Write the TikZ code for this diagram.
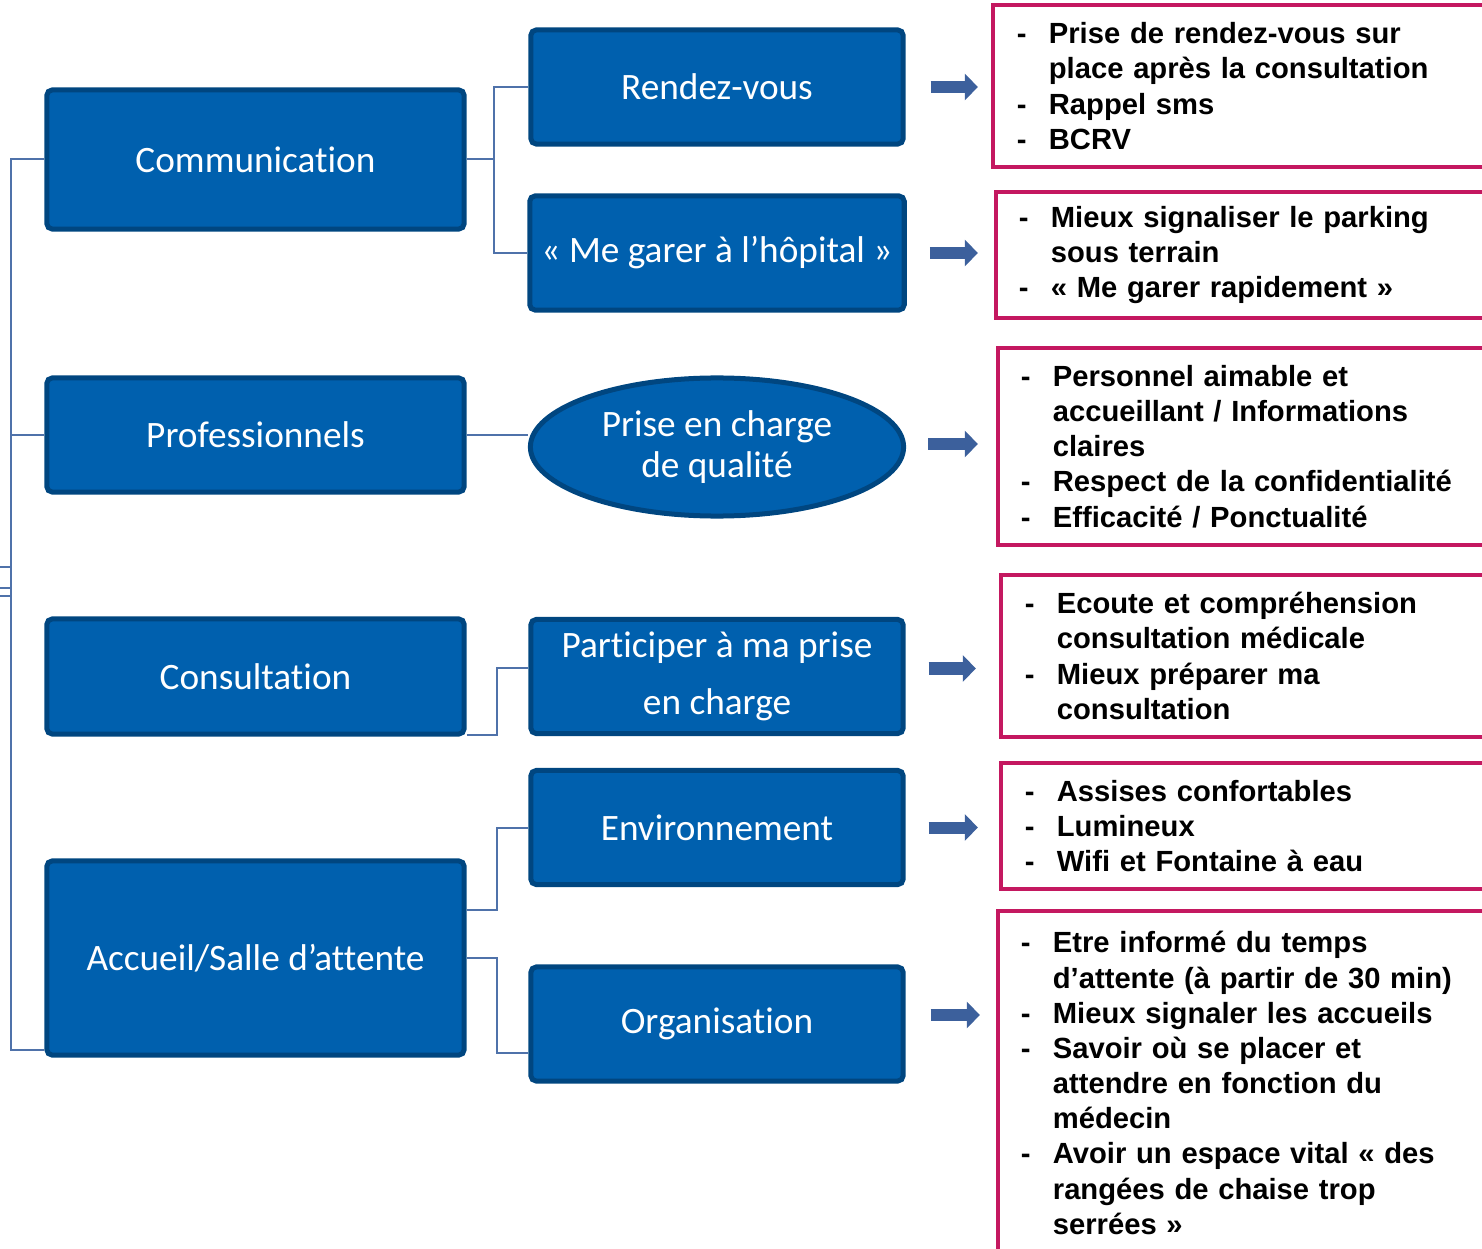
\documentclass[tikz,border=0pt]{standalone}
\usepackage{fontspec}
\setmainfont{Liberation Sans}
\newfontfamily\boxfont{Carlito}[Ligatures=NoCommon, RawFeature=-liga]
\usetikzlibrary{arrows.meta, calc, shapes.geometric}
\definecolor{themeblue}{RGB}{0,96,174}
\definecolor{themeedge}{RGB}{0,70,128}
\definecolor{linkblue}{RGB}{79,114,170}
\definecolor{notemagenta}{RGB}{196,24,96}
\definecolor{arrowblue}{RGB}{60,96,156}
\newcommand{\dashitem}{\makebox[3.2mm][l]{-}}
\newcommand{\contitem}{\hspace*{3.2mm}}
\tikzset{
  theme/.style={
    rectangle, rounded corners=1.5pt, minimum width=4.17cm,
    draw=themeedge, fill=themeblue, line width=0.5mm, align=center,
    font=\boxfont\fontsize{10.6}{12}\selectfont, text=white
  },
  subtheme/.style={theme, minimum width=3.72cm, minimum height=1.14cm},
  subellipse/.style={
    ellipse, minimum width=3.73cm, minimum height=1.38cm, inner sep=0pt,
    draw=themeedge, fill=themeblue, line width=0.5mm, align=center,
    font=\boxfont\fontsize{10.6}{11.7}\selectfont, text=white
  },
  note/.style={
    rectangle, draw=notemagenta, fill=white, line width=0.4mm,
    align=left, inner ysep=0pt,
    font=\bfseries\fontsize{8.3}{10}\selectfont, text=black
  },
  link/.style={draw=linkblue, line width=0.2mm},
  bigarrow/.style={-{Triangle[length=1.3mm, width=2.6mm]}, line width=1.2mm, color=arrowblue}
}

\begin{document}
\begin{tikzpicture}[x=0.01cm, y=-0.01cm]
  \useasboundingbox (0,0) rectangle (1482,1249);
  \clip (0,0) rectangle (1482,1249);

  % themes
  \node[theme, minimum height=1.39cm] (comm) at (255.5,159.5) {Communication};
  \node[theme, minimum height=1.14cm] (prof) at (255.5,435) {Professionnels};
  \node[theme, minimum height=1.15cm] (cons) at (255.5,676.5) {Consultation};
  \node[theme, minimum height=1.94cm] (acc) at (255.5,958) {Accueil/Salle d’attente};

  % sub-themes
  \node[subtheme] (rdv) at (717,87) {Rendez-vous};
  \node[subtheme] (garer) at (717,253) {« Me garer à l’hôpital »};
  \node[subellipse] (qual) at (717,447) {Prise en charge\\de qualité};
  \node[subtheme, font=\boxfont\fontsize{10.6}{16}\selectfont] (part) at (717,676.5)
    {Participer à ma prise\\en charge};
  \node[subtheme] (env) at (717,827.5) {Environnement};
  \node[subtheme] (org) at (717,1024) {Organisation};

  % expectations
  \node[note, minimum width=5.17cm, minimum height=1.62cm, inner xsep=0.24cm, text width=4.69cm]
    (obj1) at (1251.5,86)
    {\dashitem Prise de rendez-vous sur\\ \contitem place après la consultation\\
     \dashitem Rappel sms\\ \dashitem BCRV};
  \node[note, minimum width=5.14cm, minimum height=1.26cm, inner xsep=0.23cm, text width=4.68cm]
    (obj2) at (1253,255)
    {\dashitem Mieux signaliser le parking\\ \contitem sous terrain\\
     \dashitem « Me garer rapidement »};
  \node[note, minimum width=5.12cm, minimum height=1.97cm, inner xsep=0.23cm, text width=4.66cm]
    (obj3) at (1254,446.5)
    {\dashitem Personnel aimable et\\ \contitem accueillant / Informations\\ \contitem claires\\
     \dashitem Respect de la confidentialité\\ \dashitem Efficacité / Ponctualité};
  \node[note, minimum width=5.09cm, minimum height=1.62cm, inner xsep=0.24cm, text width=4.61cm]
    (obj4) at (1255.5,656)
    {\dashitem Ecoute et compréhension\\ \contitem consultation médicale\\
     \dashitem Mieux préparer ma\\ \contitem consultation};
  \node[note, minimum width=5.09cm, minimum height=1.26cm, inner xsep=0.24cm, text width=4.61cm]
    (obj5) at (1255.5,826)
    {\dashitem Assises confortables\\ \dashitem Lumineux\\ \dashitem Wifi et Fontaine à eau};
  \node[note, minimum width=5.12cm, minimum height=3.44cm, inner xsep=0.23cm, text width=4.66cm]
    (obj6) at (1254,1083)
    {\dashitem Etre informé du temps\\ \contitem d’attente (à partir de 30 min)\\
     \dashitem Mieux signaler les accueils\\ \dashitem Savoir où se placer et\\
     \contitem attendre en fonction du\\ \contitem médecin\\
     \dashitem Avoir un espace vital « des\\ \contitem rangées de chaise trop\\ \contitem serrées »};

  % tree links
  \coordinate (spineT) at (11,159.5);
  \coordinate (spineB) at (11,1050);
  \coordinate (upA) at (0,567);
  \coordinate (upB) at (0,588);
  \coordinate (upC) at (0,596);
  \draw[link] (comm.west) -- (spineT) -- (spineB) -- (spineB -| acc.west);
  \draw[link] (prof.west) -- (prof.west -| spineT);
  \draw[link] ($(cons.south west)+(0,-6)$) -- ($(cons.south west)+(0,-6)$ -| spineT);
  \draw[link] (upA) -- (upA -| spineT);
  \draw[link] (upB) -- (upB -| spineT);
  \draw[link] (upC) -- (upC -| spineT);

  \coordinate (cfork) at (494,159.5);
  \draw[link] (comm.east) -- (cfork);
  \draw[link] ($(comm.east)+(0,15)$) -- ($(comm.east)+(0,15)$ -| cfork);
  \draw[link] (rdv.west) -| (cfork) |- (garer.west);
  \draw[link] (prof.east) -- (prof.east -| qual.west);
  \draw[link] ($(cons.south east)+(0,-2)$) -- ++(30,0) |- ($(part.west)+(0,-9)$);
  \draw[link] ($(acc.east)+(0,-48)$) -- ++(30,0) |- (env.west);
  \draw[link] (acc.east) -- ++(30,0) |- ($(org.west)+(0,29)$);

  % arrows to expectations
  \draw[bigarrow] ([xshift=2.5mm]rdv.east) -- ([xshift=-1.3mm]rdv.east -| obj1.west);
  \draw[bigarrow] ([xshift=2.3mm]garer.east) -- ([xshift=-1.6mm]garer.east -| obj2.west);
  \draw[bigarrow] ([xshift=2.2mm, yshift=0.3mm]qual.east) -- ([xshift=-1.8mm, yshift=0.3mm]qual.east -| obj3.west);
  \draw[bigarrow] ([xshift=2.3mm, yshift=0.8mm]part.east) -- ([xshift=-2.3mm, yshift=0.8mm]part.east -| obj4.west);
  \draw[bigarrow] ([xshift=2.3mm]env.east) -- ([xshift=-2.1mm]env.east -| obj5.west);
  \draw[bigarrow] ([xshift=2.5mm, yshift=0.9mm]org.east) -- ([xshift=-1.6mm, yshift=0.9mm]org.east -| obj6.west);
\end{tikzpicture}
\end{document}
